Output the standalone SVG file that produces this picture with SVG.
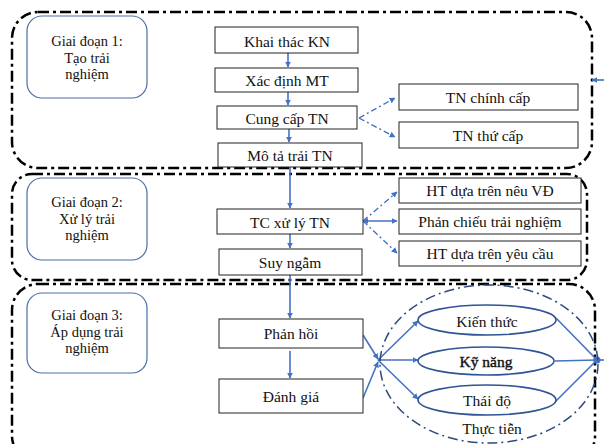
<svg xmlns="http://www.w3.org/2000/svg" width="604" height="444" viewBox="0 0 604 444">
<defs>
<style>
.stage{fill:none;stroke:#000;stroke-width:2.5;stroke-dasharray:11 4 3 4}
.lbl{fill:#fff;stroke:#4a6ea8;stroke-width:1.2}
.box{fill:#fff;stroke:#222;stroke-width:1}
.t{font-family:"Liberation Serif","Times New Roman",serif;font-size:15.5px;fill:#111;text-anchor:middle;dominant-baseline:central}
.s{font-size:14.5px}
.ar{stroke:#4472c4;stroke-width:1.6;fill:none}
.dd{stroke:#4472c4;stroke-width:1.4;fill:none;stroke-dasharray:6 3 2 3}
.ell{fill:#fff;stroke:#2f5597;stroke-width:1.6}
</style>
<marker id="ah" viewBox="0 0 10 10" refX="9" refY="5" markerWidth="6" markerHeight="6" orient="auto-start-reverse" markerUnits="userSpaceOnUse">
<path d="M0,0 L10,5 L0,10 z" fill="#4472c4"/>
</marker>
</defs>
<rect width="604" height="444" fill="#fff"/>

<g id="stage1-border"><rect class="stage" x="12" y="12" width="580" height="156" rx="26"/></g>
<g id="stage2-border"><rect class="stage" x="12" y="174" width="575" height="106" rx="20"/></g>
<g id="stage3-border"><rect class="stage" x="12" y="284" width="583" height="178" rx="26"/></g>

<g id="stage1"><rect class="lbl" x="27" y="16" width="120" height="82" rx="15"/>
<text class="t s" x="87" y="41">Giai đoạn 1:</text><text class="t s" x="87" y="57.5">Tạo trải</text><text class="t s" x="87" y="74">nghiệm</text></g>
<g id="stage2"><rect class="lbl" x="27" y="178" width="120" height="82" rx="15"/>
<text class="t s" x="87" y="202">Giai đoạn 2:</text><text class="t s" x="87" y="218.5">Xử lý trải</text><text class="t s" x="87" y="235">nghiệm</text></g>
<g id="stage3"><rect class="lbl" x="27" y="293" width="120" height="80" rx="15"/>
<text class="t s" x="87" y="315">Giai đoạn 3:</text><text class="t s" x="87" y="331.5">Áp dụng trải</text><text class="t s" x="87" y="348">nghiệm</text></g>

<g id="connectors">
<line class="ar" x1="288" y1="53" x2="288" y2="67" marker-end="url(#ah)"/>
<line class="ar" x1="288" y1="92" x2="288" y2="105" marker-end="url(#ah)"/>
<line class="ar" x1="289" y1="129" x2="289" y2="142" marker-end="url(#ah)"/>
<line class="ar" x1="290" y1="167" x2="290" y2="208" marker-end="url(#ah)"/>
<line class="ar" x1="290" y1="234" x2="290" y2="248" marker-end="url(#ah)"/>
<line class="ar" x1="290" y1="275" x2="290" y2="318" marker-end="url(#ah)"/>
<line class="ar" x1="290" y1="351" x2="290" y2="378" marker-end="url(#ah)"/>
<line class="dd" x1="359" y1="118" x2="395" y2="98" marker-end="url(#ah)"/>
<line class="dd" x1="359" y1="118" x2="395" y2="137" marker-end="url(#ah)"/>
<line class="dd" x1="363" y1="221" x2="397" y2="192" marker-end="url(#ah)"/>
<line class="ar" x1="363" y1="221" x2="397" y2="221" marker-start="url(#ah)" marker-end="url(#ah)"/>
<line class="dd" x1="363" y1="221" x2="397" y2="253" marker-end="url(#ah)"/>
<line class="ar" x1="363" y1="335" x2="378" y2="359" marker-end="url(#ah)"/>
<line class="ar" x1="363" y1="398" x2="378" y2="362" marker-end="url(#ah)"/>
<line class="ar" x1="378" y1="360" x2="418" y2="321" marker-end="url(#ah)"/>
<line class="ar" x1="378" y1="360" x2="418" y2="360" marker-end="url(#ah)"/>
<line class="ar" x1="378" y1="360" x2="418" y2="399" marker-end="url(#ah)"/>
<line class="ar" x1="556" y1="318" x2="597" y2="360"/>
<line class="ar" x1="555" y1="361" x2="597" y2="360"/>
<line class="ar" x1="555" y1="402" x2="597" y2="360"/>
<line class="ar" x1="597" y1="360" x2="604" y2="360"/>
<circle cx="597" cy="360" r="3.5" fill="#4472c4"/>
<line class="ar" x1="604" y1="80" x2="592" y2="80" marker-end="url(#ah)"/>
</g>

<g id="n-khaithac"><rect class="box" x="215" y="27" width="143" height="26"/><text class="t" x="287" y="41">Khai thác KN</text></g>
<g id="n-xacdinh"><rect class="box" x="215" y="68" width="143" height="24"/><text class="t" x="287" y="80">Xác định MT</text></g>
<g id="n-cungcap"><rect class="box" x="217" y="106" width="140" height="23"/><text class="t" x="287" y="118">Cung cấp TN</text></g>
<g id="n-mota"><rect class="box" x="218" y="143" width="144" height="24"/><text class="t" x="290" y="155">Mô tả trải TN</text></g>
<g id="n-chinhcap"><rect class="box" x="399" y="84" width="179" height="26"/><text class="t" x="488" y="97">TN chính cấp</text></g>
<g id="n-thucap"><rect class="box" x="399" y="122" width="179" height="26"/><text class="t" x="488" y="135">TN thứ cấp</text></g>
<g id="n-tcxuly"><rect class="box" x="217" y="209" width="146" height="25"/><text class="t" x="290" y="222">TC xử lý TN</text></g>
<g id="n-suyngam"><rect class="box" x="219" y="249" width="143" height="26"/><text class="t" x="290" y="262">Suy ngẫm</text></g>
<g id="n-htneu"><rect class="box" x="399" y="178" width="182" height="25"/><text class="t" x="490" y="190">HT dựa trên nêu VĐ</text></g>
<g id="n-phanchieu"><rect class="box" x="399" y="209" width="182" height="25"/><text class="t" x="490" y="221">Phản chiếu trải nghiệm</text></g>
<g id="n-htyeucau"><rect class="box" x="399" y="241" width="182" height="25"/><text class="t" x="490" y="253">HT dựa trên yêu cầu</text></g>
<g id="n-phanhoi"><rect class="box" x="219" y="319" width="144" height="29"/><text class="t" x="291" y="333">Phản hồi</text></g>
<g id="n-danhgia"><rect class="box" x="219" y="379" width="144" height="34"/><text class="t" x="291" y="396">Đánh giá</text></g>

<g id="n-thuctien"><ellipse cx="489" cy="364" rx="109" ry="79" fill="none" stroke="#2e4a7d" stroke-width="1.5" stroke-dasharray="10 4 2 4"/><text class="t" x="492" y="428">Thực tiễn</text></g>
<g id="n-kienthuc"><ellipse class="ell" cx="487" cy="320" rx="69" ry="15"/><text class="t" x="487" y="321">Kiến thức</text></g>
<g id="n-kynang"><ellipse class="ell" cx="486" cy="361" rx="68" ry="14"/><text class="t" x="486" y="361" stroke="#111" stroke-width="0.4">Kỹ năng</text></g>
<g id="n-thaido"><ellipse class="ell" cx="487" cy="400" rx="69" ry="15"/><text class="t" x="487" y="400">Thái độ</text></g>
</svg>
